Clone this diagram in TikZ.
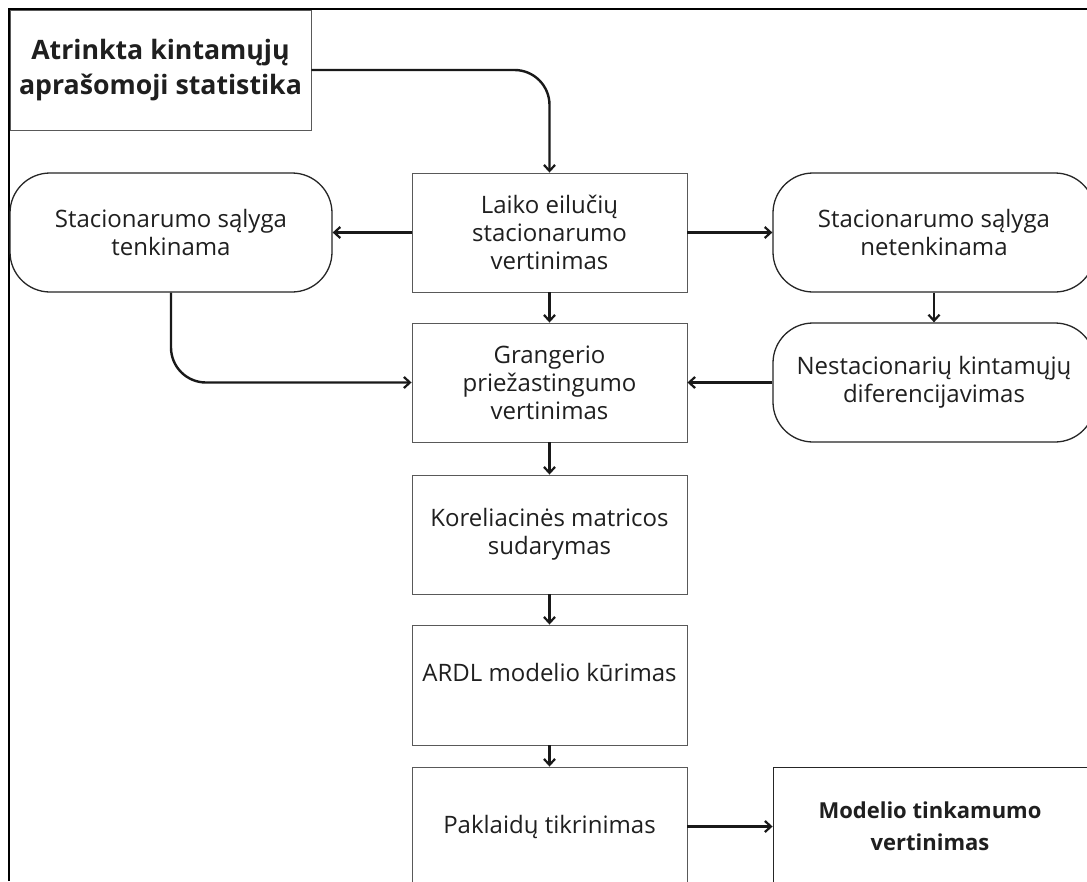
\documentclass[tikz,border=0pt]{standalone}
\usepackage{fontspec}
\setmainfont{Open Sans}
\usetikzlibrary{arrows.meta}
\begin{document}
\begin{tikzpicture}[x=1pt,y=-1pt,
  txt/.style={font=\fontsize{24}{28}\selectfont, text=black!88},
  box/.style={txt, draw=black!65, line width=0.9pt, minimum width=275pt, minimum height=119pt, align=center, inner sep=0pt},
  rbox/.style={txt, draw=black!85, line width=1.3pt, rounded corners=40pt, minimum width=322pt, minimum height=119pt, align=center, inner sep=0pt},
  arr/.style={line width=2.4pt, draw=black!90, -{Straight Barb[length=6pt,width=11pt,line width=2.2pt]}}
]
\useasboundingbox (0,0) rectangle (1087,881);
\fill[white] (0,0) rectangle (1087,881);
% frame
\draw[line width=2pt] (9,881) -- (9,9) -- (1087,9);

\node[box, minimum width=301pt, minimum height=120pt, font=\fontsize{26.7}{35}\selectfont\bfseries] (src) at (160.5,70) {Atrinkta kintamųjų\\aprašomoji statistika};
\node[box] (laiko) at (549.5,232.5) {Laiko eilučių\\stacionarumo\\vertinimas};
\node[rbox] (tenk) at (171,232.5) {Stacionarumo sąlyga\\tenkinama};
\node[rbox] (netenk) at (934,232.5) {Stacionarumo sąlyga\\netenkinama};
\node[box] (granger) at (549.5,382.5) {Grangerio\\priežastingumo\\vertinimas};
\node[rbox] (nestac) at (934,382.5) {Nestacionarių kintamųjų\\diferencijavimas};
\node[box] (kor) at (549.5,534.5) {Koreliacinės matricos\\sudarymas};
\node[box, minimum height=120pt] (ardl) at (549.5,685) {ARDL modelio kūrimas\\[-2pt]};
\node[box] (pakl) at (549.5,826.5) {Paklaidų tikrinimas};
\node[box, draw=black!85, minimum width=314pt, font=\fontsize{22}{32}\selectfont\bfseries] (model) at (930,826.5) {Modelio tinkamumo\\vertinimas};

\draw[arr, rounded corners=35pt] (src.east) -- (laiko.north |- src.east) -- (laiko.north);
\draw[arr] (laiko.west) -- (tenk.east);
\draw[arr] (laiko.east) -- (netenk.west);
\draw[arr] (laiko.south) -- (granger.north);
\draw[arr, rounded corners=35pt] (tenk.south) -- (tenk.south |- granger.west) -- (granger.west);
\draw[arr] (netenk.south) -- (nestac.north);
\draw[arr] (nestac.west) -- (granger.east);
\draw[arr] (granger.south) -- (kor.north);
\draw[arr] (kor.south) -- (ardl.north);
\draw[arr] (ardl.south) -- (pakl.north);
\draw[arr] (pakl.east) -- (model.west);
\end{tikzpicture}
\end{document}
